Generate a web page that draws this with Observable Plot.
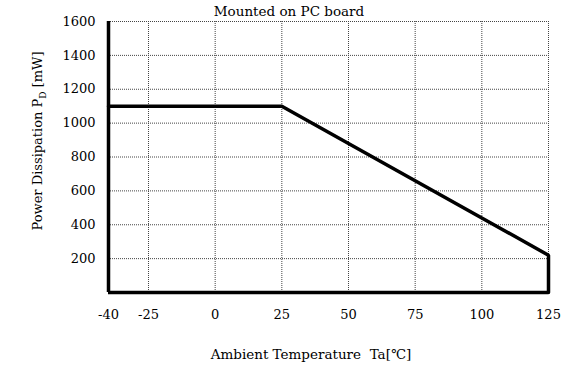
<!DOCTYPE html>
<html>
<head>
<meta charset="utf-8">
<script src="https://cdn.jsdelivr.net/npm/d3@7"></script>
<script src="https://cdn.jsdelivr.net/npm/@observablehq/plot@0.6"></script>
<style>
  html, body { margin: 0; padding: 0; background: #fff; }
  svg { display: block; }
</style>
</head>
<body>
<div id="chart"></div>
<script>
const temperature = [-40, 25, 125, 125];
const power = [1100, 1100, 220, 0];
const xTicks = [-40, -25, 0, 25, 50, 75, 100, 125];
const yTicks = [200, 400, 600, 800, 1000, 1200, 1400, 1600];
const gridX = [-25, 0, 25, 50, 75, 100, 125];
const title = "Mounted on PC board";
const xLabel = "Ambient Temperature\u00a0\u00a0Ta[\u2103]";

const curve = temperature.map((t, i) => ({t, p: power[i]}));
const font = "'DejaVu Serif', serif";
const fmt = d => String(d);

const chart = Plot.plot({
  width: 583,
  height: 368,
  marginLeft: 108,
  marginRight: 35,
  marginTop: 21,
  marginBottom: 76,
  style: {fontFamily: font, fontSize: "13px", color: "#000", background: "#fff"},
  x: {domain: [-40, 125], label: null},
  y: {domain: [0, 1600], label: null},
  marks: [
    Plot.gridX(gridX, {stroke: "#444", strokeOpacity: 1, strokeDasharray: "1,1"}),
    Plot.gridY(yTicks, {stroke: "#444", strokeOpacity: 1, strokeDasharray: "1,1"}),
    Plot.ruleX([-40], {strokeWidth: 3.5, stroke: "#000"}),
    Plot.ruleY([0], {strokeWidth: 3.5, stroke: "#000"}),
    Plot.line(curve, {x: "t", y: "p", stroke: "#000", strokeWidth: 3.5, strokeLinejoin: "miter"}),
    Plot.axisX({ticks: xTicks, tickFormat: fmt, tickSize: 0, tickPadding: 17, fontSize: 13, fontFamily: font, label: null}),
    Plot.axisY({ticks: yTicks, tickFormat: fmt, tickSize: 0, tickPadding: 13, fontSize: 13, fontFamily: font, label: null})
  ]
});

const svg = d3.select(chart);
svg.append("text")
  .attr("x", 289).attr("y", 16)
  .attr("text-anchor", "middle")
  .attr("font-family", font).attr("font-size", 13.5)
  .text(title);
svg.append("text")
  .attr("x", 311).attr("y", 359)
  .attr("text-anchor", "middle")
  .attr("font-family", font).attr("font-size", 13.5)
  .text(xLabel);
const yl = svg.append("text")
  .attr("transform", "translate(42,141) rotate(-90)")
  .attr("text-anchor", "middle")
  .attr("font-family", font).attr("font-size", 13);
yl.append("tspan").text("Power Dissipation P");
yl.append("tspan").attr("dy", 4).attr("font-size", 9).text("D");
yl.append("tspan").attr("dy", -4).text(" [mW]");

document.getElementById("chart").appendChild(chart);
</script>
</body>
</html>
